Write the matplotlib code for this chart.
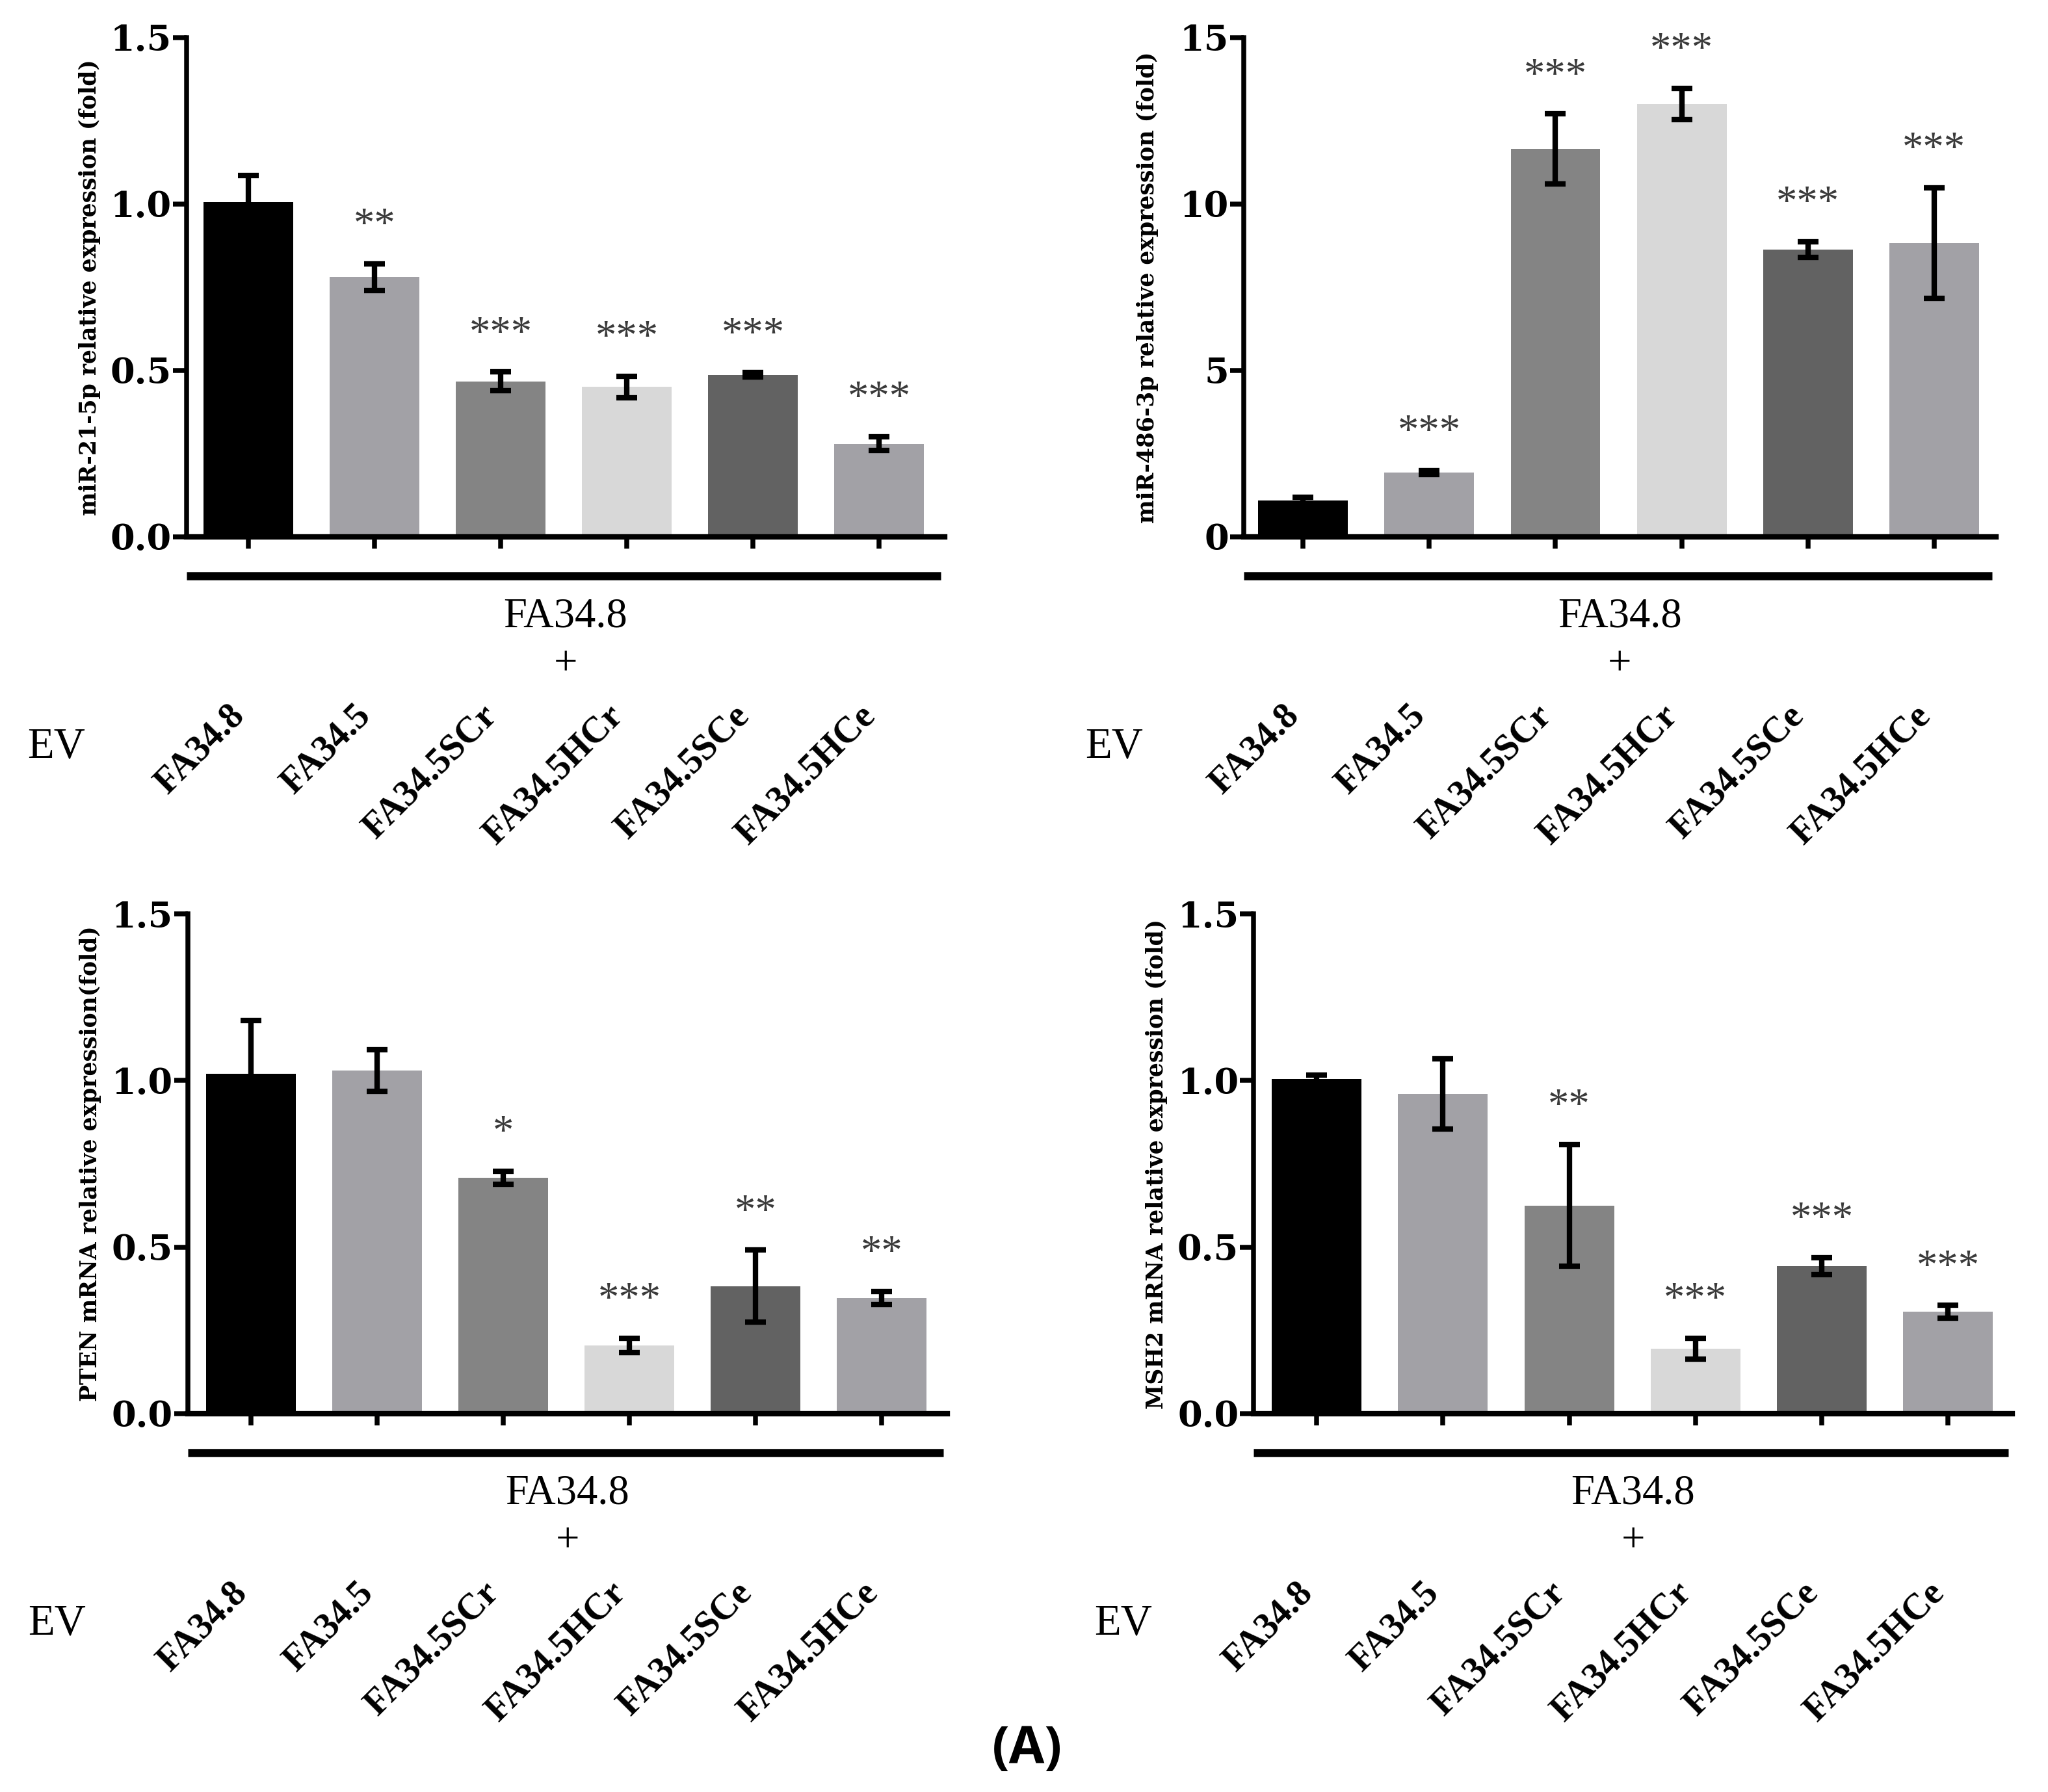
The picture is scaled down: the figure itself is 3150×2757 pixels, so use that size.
import matplotlib
matplotlib.use("Agg")
import matplotlib.pyplot as plt
import matplotlib.transforms as mtransforms

# ---------------- data ----------------
groups = ["FA34.8", "FA34.5", "FA34.5SCr", "FA34.5HCr", "FA34.5SCe", "FA34.5HCe"]
bar_colors = ["#000000", "#a2a1a6", "#848484", "#d8d8d8", "#626262", "#a2a1a6"]

mir21_mean = [1.005, 0.78, 0.467, 0.45, 0.487, 0.28]
mir21_err = [0.08, 0.04, 0.028, 0.032, 0.006, 0.021]
mir21_sig = ["", "**", "***", "***", "***", "***"]

mir486_mean = [1.09, 1.93, 11.65, 13.0, 8.63, 8.82]
mir486_err = [0.10, 0.06, 1.05, 0.47, 0.23, 1.66]
mir486_sig = ["", "***", "***", "***", "***", "***"]

pten_mean = [1.02, 1.03, 0.708, 0.205, 0.383, 0.347]
pten_err = [0.16, 0.063, 0.02, 0.022, 0.108, 0.02]
pten_sig = ["", "", "*", "***", "**", "**"]

msh2_mean = [1.005, 0.96, 0.625, 0.195, 0.443, 0.306]
msh2_err = [0.012, 0.105, 0.183, 0.032, 0.026, 0.019]
msh2_sig = ["", "", "**", "***", "***", "***"]

ylabels = ["miR-21-5p relative expression (fold)",
           "miR-486-3p relative expression (fold)",
           "PTEN mRNA relative expression(fold)",
           "MSH2 mRNA relative expression (fold)"]
yticks_small = [0, 0.5, 1.0, 1.5]
yticklabels_small = ["0.0", "0.5", "1.0", "1.5"]
yticks_big = [0, 5, 10, 15]
yticklabels_big = ["0", "5", "10", "15"]
group_title = "FA34.8"
plus_text = "+"
ev_text = "EV"
panel_label = "(A)"

# ---------------- figure ----------------
fig = plt.figure(figsize=(10.5, 9.19), dpi=300)

serif = "Liberation Serif"
tickfont = "DejaVu Serif"

panels = [
    dict(rect=[0.0911, 0.7004, 0.3702, 0.2787], xlim=(-0.49, 5.52),
         mean=mir21_mean, err=mir21_err, sig=mir21_sig,
         yt=yticks_small, ytl=yticklabels_small, ylab=ylabels[0]),
    dict(rect=[0.6073, 0.7004, 0.3673, 0.2787], xlim=(-0.47, 5.49),
         mean=mir486_mean, err=mir486_err, sig=mir486_sig,
         yt=yticks_big, ytl=yticklabels_big, ylab=ylabels[1]),
    dict(rect=[0.0916, 0.2111, 0.3710, 0.2789], xlim=(-0.50, 5.52),
         mean=pten_mean, err=pten_err, sig=pten_sig,
         yt=yticks_small, ytl=yticklabels_small, ylab=ylabels[2]),
    dict(rect=[0.6121, 0.2111, 0.3705, 0.2789], xlim=(-0.50, 5.51),
         mean=msh2_mean, err=msh2_err, sig=msh2_sig,
         yt=yticks_big if False else yticks_small, ytl=yticklabels_small, ylab=ylabels[3]),
]

for p in panels:
    ax = fig.add_axes(p["rect"])
    x = list(range(len(groups)))
    ax.bar(x, p["mean"], width=0.71, color=bar_colors, edgecolor="none", zorder=2)
    ax.errorbar(x, p["mean"], yerr=p["err"], fmt="none", ecolor="black",
                elinewidth=2.0, capsize=3.8, capthick=2.0, zorder=3)
    ax.set_xlim(*p["xlim"])
    ax.set_ylim(p["yt"][0], p["yt"][-1])
    ax.set_yticks(p["yt"])
    ax.set_yticklabels(p["ytl"], fontfamily=tickfont, fontweight="bold", fontsize=13)
    ax.set_xticks(x)
    ax.set_xticklabels([])
    for s in ["top", "right"]:
        ax.spines[s].set_visible(False)
    ax.spines["left"].set_linewidth(1.8)
    ax.spines["bottom"].set_linewidth(2.0)
    ax.tick_params(axis="y", direction="out", length=5, width=1.8, pad=0.5)
    ax.tick_params(axis="x", direction="out", length=4.2, width=1.8)
    ax.set_ylabel(p["ylab"], fontfamily=tickfont, fontweight="bold", fontsize=8.3)
    ax.yaxis.set_label_coords(-0.113, 0.5)

    # significance stars
    for xi, m, e, s in zip(x, p["mean"], p["err"], p["sig"]):
        if s:
            ax.annotate(s, (xi, m + e), xytext=(0, 10), textcoords="offset points",
                        ha="center", va="baseline", fontfamily=serif,
                        fontsize=15.5, color="#3a3a3a", zorder=4)

    # thick group bar under the axis
    ax.plot([0.0, 0.995], [-0.078, -0.078], transform=ax.transAxes,
            color="black", linewidth=3.0, solid_capstyle="butt", clip_on=False)
    ax.text(0.5, -0.16, group_title, transform=ax.transAxes, ha="center", va="center",
            fontfamily=serif, fontsize=15.5)
    ax.text(0.5, -0.255, plus_text, transform=ax.transAxes, ha="center", va="center",
            fontfamily=serif, fontsize=15.5)
    ax.text(-0.172, -0.42, ev_text, transform=ax.transAxes, ha="center", va="center",
            fontfamily=serif, fontsize=16)

    trans = mtransforms.blended_transform_factory(ax.transData, ax.transAxes)
    for xi, g in zip(x, groups):
        ax.text(xi + 0.02, -0.324, g, transform=trans, rotation=45,
                ha="right", va="top", fontfamily=serif, fontweight="bold",
                fontsize=13.5)

fig.text(0.5016, 0.0236, panel_label, ha="center", va="center",
         fontfamily="Open Sans", fontweight="bold", fontsize=19)

fig.savefig("out.png", dpi=300)
